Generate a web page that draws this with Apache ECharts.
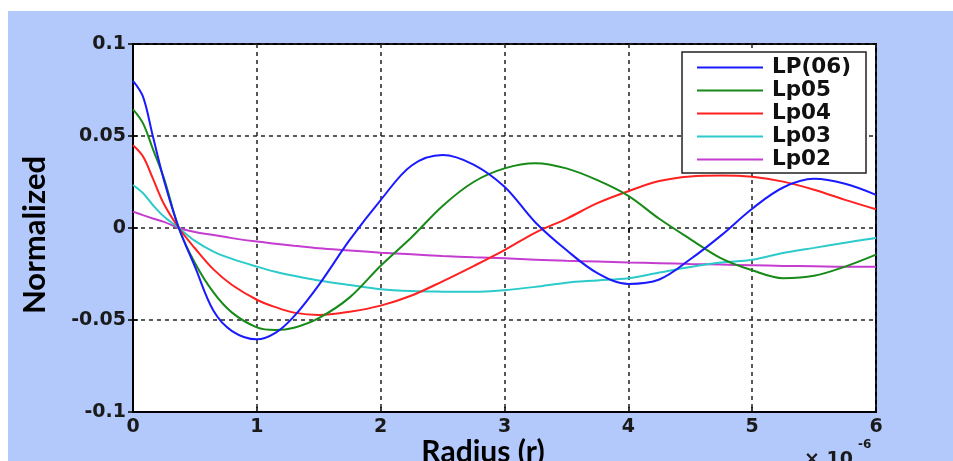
<!DOCTYPE html>
<html>
<head>
<meta charset="utf-8">
<script src="https://cdn.jsdelivr.net/npm/echarts@6/dist/echarts.min.js"></script>
<style>
  html, body { margin: 0; padding: 0; background: #ffffff; }
  #chart { width: 953px; height: 461px; }
</style>
</head>
<body>
<div id="chart"></div>
<script>
// Radius samples (units of 1e-6) shared by every mode profile
const radius = [0, 0.08, 0.16, 0.25, 0.37, 0.5, 0.65, 0.8, 1.0, 1.15, 1.3, 1.5, 1.75, 2.0, 2.25, 2.5, 2.75, 3.0, 3.25, 3.5, 3.75, 4.0, 4.25, 4.5, 4.75, 5.0, 5.25, 5.5, 5.75, 6.0];

// Normalized field amplitude per mode
const lp06 = [0.080, 0.0715, 0.050, 0.026, 0.0, -0.021, -0.045, -0.056, -0.0605, -0.057, -0.048, -0.031, -0.0065, 0.0152, 0.034, 0.0397, 0.0345, 0.0224, 0.003, -0.012, -0.0245, -0.0304, -0.028, -0.017, -0.004, 0.0105, 0.022, 0.0267, 0.024, 0.018];
const lp05 = [0.0645, 0.057, 0.043, 0.027, 0.0, -0.019, -0.035, -0.046, -0.054, -0.0554, -0.0542, -0.049, -0.0377, -0.0205, -0.005, 0.012, 0.025, 0.0324, 0.0352, 0.0324, 0.026, 0.0175, 0.005, -0.006, -0.0165, -0.023, -0.0273, -0.026, -0.021, -0.0145];
const lp04 = [0.045, 0.039, 0.027, 0.013, 0.0, -0.011, -0.0225, -0.031, -0.039, -0.043, -0.046, -0.0473, -0.0455, -0.0422, -0.0367, -0.029, -0.0207, -0.012, -0.0025, 0.005, 0.0135, 0.020, 0.0255, 0.028, 0.0285, 0.0278, 0.0252, 0.0208, 0.0153, 0.0102];
const lp03 = [0.0234, 0.019, 0.0125, 0.0062, 0.0, -0.007, -0.0128, -0.0168, -0.021, -0.0238, -0.026, -0.0285, -0.031, -0.0333, -0.0343, -0.0346, -0.0347, -0.0338, -0.032, -0.0297, -0.0285, -0.0273, -0.0242, -0.0212, -0.0188, -0.0173, -0.0136, -0.0108, -0.008, -0.0054];
const lp02 = [0.0089, 0.007, 0.0052, 0.0033, 0.0, -0.0022, -0.0038, -0.0055, -0.0074, -0.0085, -0.0096, -0.011, -0.0122, -0.0134, -0.0143, -0.0152, -0.0159, -0.0165, -0.0172, -0.0178, -0.0182, -0.0187, -0.0191, -0.0196, -0.0199, -0.0202, -0.0206, -0.0208, -0.021, -0.021];

const seriesNames = ['LP(06)', 'Lp05', 'Lp04', 'Lp03', 'Lp02'];
const seriesValues = [lp06, lp05, lp04, lp03, lp02];
const seriesColors = ['#1a1aff', '#178a17', '#ff2020', '#2ccaca', '#c43cd0'];

// Axis ranges and labels
const xMin = 0, xMax = 6, xStep = 1;
const yMin = -0.1, yMax = 0.1, yStep = 0.05;
const xTitle = 'Radius (r)';
const yTitle = 'Normalized';
const xScaleNote = '\u00d7 10';
const xScaleExp = '-6';

const tickFont = { fontFamily: 'DejaVu Sans', fontWeight: 'bold', fontSize: 19, color: '#1a1a1a' };
const gridLine = { show: true, lineStyle: { color: '#222', width: 1.5, type: [4, 4] } };

const chart = echarts.init(document.getElementById('chart'), null, { renderer: 'canvas' });

const option = {
  animation: false,
  backgroundColor: 'transparent',
  grid: {
    left: 133, right: 77, top: 44, bottom: 49,
    show: true, backgroundColor: '#ffffff', borderColor: '#000', borderWidth: 2
  },
  xAxis: [
    {
      type: 'value', min: xMin, max: xMax, interval: xStep,
      axisLine: { show: true, onZero: false, lineStyle: { color: '#000', width: 2 } },
      axisTick: { show: true, inside: true, length: 5, lineStyle: { color: '#000', width: 1.5 } },
      axisLabel: Object.assign({ margin: 6 }, tickFont),
      splitLine: gridLine
    },
    {
      type: 'value', position: 'top', min: xMin, max: xMax, interval: xStep,
      axisLine: { show: false },
      axisTick: { show: true, inside: true, length: 5, lineStyle: { color: '#000', width: 1.5 } },
      axisLabel: { show: false }, splitLine: { show: false }
    }
  ],
  yAxis: [
    {
      type: 'value', min: yMin, max: yMax, interval: yStep,
      axisLine: { show: true, onZero: false, lineStyle: { color: '#000', width: 2 } },
      axisTick: { show: true, inside: true, length: 5, lineStyle: { color: '#000', width: 1.5 } },
      axisLabel: Object.assign({ margin: 7 }, tickFont),
      splitLine: gridLine
    },
    {
      type: 'value', position: 'right', min: yMin, max: yMax, interval: yStep,
      axisLine: { show: false },
      axisTick: { show: true, inside: true, length: 5, lineStyle: { color: '#000', width: 1.5 } },
      axisLabel: { show: false }, splitLine: { show: false }
    }
  ],
  legend: {
    orient: 'vertical', left: 697, top: 56, padding: 0, itemGap: 0,
    icon: 'rect', itemWidth: 66, itemHeight: 2,
    data: seriesNames,
    textStyle: { fontFamily: 'DejaVu Sans', fontWeight: 'bold', fontSize: 21.5, color: '#111', lineHeight: 23, padding: [0, 0, 0, 4] },
    z: 20
  },
  graphic: [
    { type: 'rect', z: -10, silent: true, shape: { x: 8, y: 11, width: 945, height: 450 }, style: { fill: '#b3c9fb' } },
    { type: 'rect', z: 10, silent: true, shape: { x: 682, y: 52, width: 184, height: 121 }, style: { fill: '#ffffff', stroke: '#222', lineWidth: 1.5 } },
    { type: 'text', silent: true, x: 35, y: 235, rotation: Math.PI / 2,
      style: { text: yTitle, fontFamily: 'Lato', fontWeight: 'bold', fontSize: 31, fill: '#000', align: 'center', verticalAlign: 'middle' } },
    { type: 'text', silent: true, x: 483, y: 452,
      style: { text: xTitle, fontFamily: 'Lato', fontWeight: 'bold', fontSize: 30, fill: '#000', align: 'center', verticalAlign: 'middle' } },
    { type: 'text', silent: true, x: 804, y: 460,
      style: { text: xScaleNote, fontFamily: 'DejaVu Sans', fontWeight: 'bold', fontSize: 19, fill: '#1a1a1a', align: 'left', verticalAlign: 'middle' } },
    { type: 'text', silent: true, x: 858, y: 445,
      style: { text: xScaleExp, fontFamily: 'DejaVu Sans', fontWeight: 'bold', fontSize: 12, fill: '#1a1a1a', align: 'left', verticalAlign: 'middle' } }
  ],
  series: seriesNames.map((name, i) => ({
    name: name,
    type: 'line',
    xAxisIndex: 0, yAxisIndex: 0,
    data: radius.map((r, k) => [r, seriesValues[i][k]]),
    smooth: 0.35,
    symbol: 'none',
    z: 5 - i,
    lineStyle: { color: seriesColors[i], width: 2 },
    itemStyle: { color: seriesColors[i] }
  }))
};

chart.setOption(option);
</script>
</body>
</html>
